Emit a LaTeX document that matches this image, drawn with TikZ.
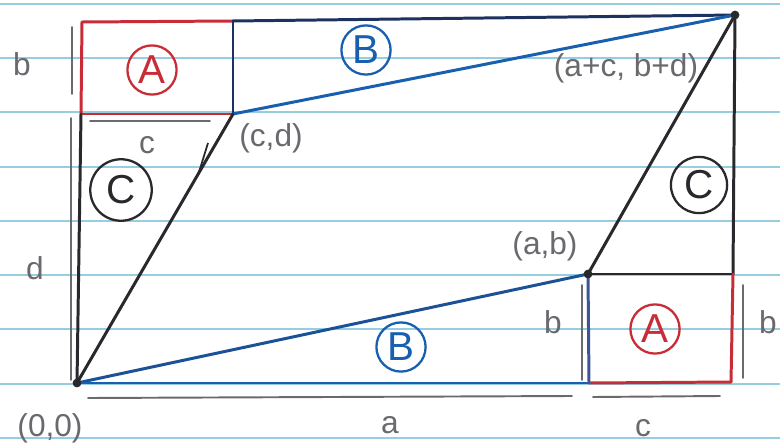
\documentclass[tikz,border=0pt]{standalone}
\usepackage{fontspec}
\setmainfont{Liberation Sans}
\definecolor{paper}{RGB}{150,205,225}
\definecolor{penred}{RGB}{200,45,55}
\definecolor{penblue}{RGB}{25,95,175}
\definecolor{pennavy}{RGB}{30,50,95}
\definecolor{penink}{RGB}{40,40,45}
\definecolor{pencil}{RGB}{105,105,110}
\tikzset{
  ruled/.style={paper, line width=1.1pt},
  edge/.style={line width=1.7pt, line cap=round, line join=round},
  dimbar/.style={pencil, line width=1.1pt, line cap=round},
  lbl/.style={pencil, font=\fontsize{18}{20}\selectfont, inner sep=0pt},
  circled/.style={circle, draw, line width=1.3pt, minimum size=#1, inner sep=0pt, font=\fontsize{23}{25}\selectfont},
  dot/.style={circle, fill=penink, inner sep=0pt, minimum size=5pt}
}
\begin{document}
\begin{tikzpicture}[x=0.02cm, y=-0.02cm]
\useasboundingbox (0,0) rectangle (780,446);
\fill[white] (0,0) rectangle (780,446);
% ruled paper lines
\foreach \yy in {4,58,112,167,221,275,329,384,438}
  \draw[ruled] (0,\yy) -- (780,\yy);

% key points
\coordinate (O) at (77,383);
\coordinate (CD) at (233,114);
\coordinate (AB) at (588,274);
\coordinate (TR) at (735,15);
\coordinate (P1) at (82,22);
\coordinate (P2) at (233,21);
\coordinate (P3) at (81,114);
\coordinate (Q1) at (589,383);
\coordinate (Q2) at (731,382);
\coordinate (Q3) at (733,274);

% top-left box A
\draw[edge, penred] (P3) -- (P1) -- (P2);
\draw[edge, penred] (P3) -- (CD);
\draw[edge, pennavy] (P2) -- (CD);
\draw[edge, pennavy] (P2) -- (TR);
\draw[edge, penblue] (CD) -- (TR);
% left edge and C triangle
\draw[edge, penink] (P3) -- (O);
\draw[edge, penink] (O) -- (CD);
% bottom triangle B
\draw[edge, penblue!70!pennavy] (O) -- (AB);
\draw[edge, penblue] (O) -- (Q1);
% right part
\draw[edge, penink] (AB) -- (TR);
\draw[edge, penink] (TR) -- (Q3);
\draw[edge, penink] (AB) -- (Q3);
% bottom-right box A
\draw[edge, penred] (Q1) -- (Q2) -- (Q3);
\draw[edge, penblue!80!penred] (AB) -- (Q1);

% small stray tick on O--CD
\coordinate (t1) at (208,143);
\coordinate (t2) at (199,172);
\draw[penink, line width=1pt] (t1) -- (t2);

% dots
\node[dot] (dO) at (O) {};
\node[dot] (dAB) at (AB) {};
\node[dot] (dTR) at (TR) {};

% dimension bars
\coordinate (b1s) at (72,27);  \coordinate (b1e) at (72,94);
\coordinate (d1s) at (71,118); \coordinate (d1e) at (71,380);
\coordinate (c1s) at (90,121); \coordinate (c1e) at (210,121);
\coordinate (a1s) at (88,398); \coordinate (a1e) at (572,396);
\coordinate (c2s) at (593,397); \coordinate (c2e) at (720,396);
\coordinate (b2s) at (582,285); \coordinate (b2e) at (582,380);
\coordinate (b3s) at (743,285); \coordinate (b3e) at (743,378);
\draw[dimbar] (b1s) -- (b1e);
\draw[dimbar] (d1s) -- (d1e);
\draw[dimbar] (c1s) -- (c1e);
\draw[dimbar] (a1s) -- (a1e);
\draw[dimbar] (c2s) -- (c2e);
\draw[dimbar] (b2s) -- (b2e);
\draw[dimbar] (b3s) -- (b3e);

% labels
\node[lbl] (lb1) at (22,64) {b};
\node[lbl] (lc1) at (147,145) {c};
\node[lbl] (ld1) at (35,268) {d};
\node[lbl] (l00) at (50,428) {(0,0)};
\node[lbl] (la) at (390,425) {a};
\node[lbl] (lc2) at (643,428) {c};
\node[lbl] (lcd) at (271,138) {(c,d)};
\node[lbl] (lacbd) at (626,68) {(a+c, b+d)};
\node[lbl] (lab) at (545,246) {(a,b)};
\node[lbl] (lb2) at (553,322) {b};
\node[lbl] (lb3) at (768,322) {b};

% circled region names
\node[circled=28pt, penred] (cA1) at (152,70) {A};
\node[circled=28pt, penblue] (cB1) at (366,50) {B};
\node[circled=35pt, penink] (cC1) at (121,190) {C};
\node[circled=32pt, penink] (cC2) at (699,185) {C};
\node[circled=28pt, penblue] (cB2) at (401,347) {B};
\node[circled=28pt, penred] (cA2) at (655,329) {A};
\end{tikzpicture}
\end{document}
